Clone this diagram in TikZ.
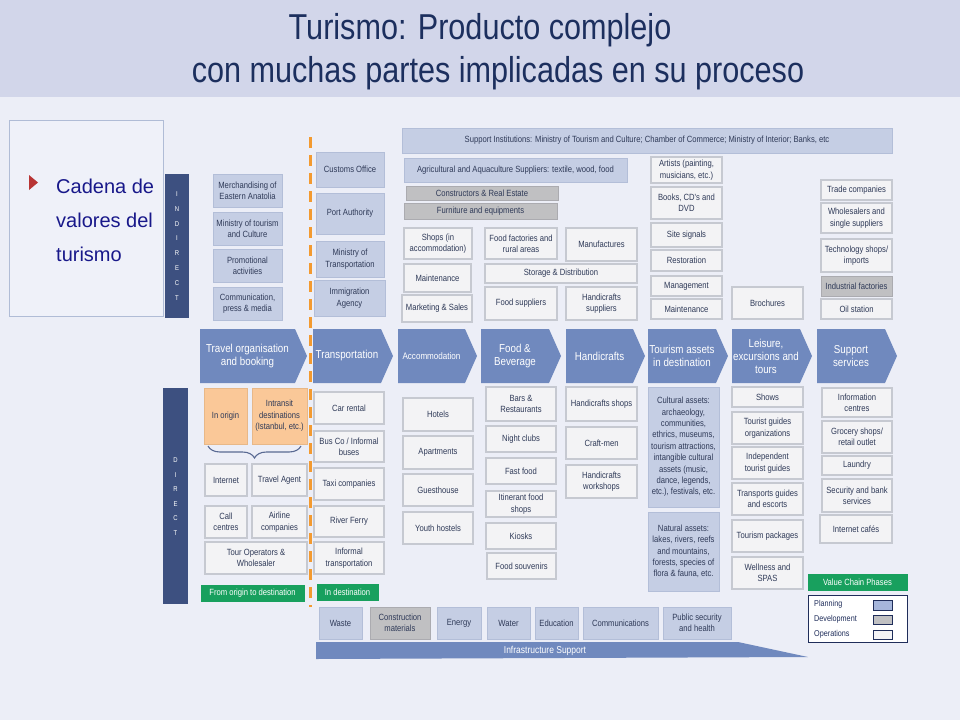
\documentclass[tikz,border=0pt]{standalone}
\usepackage{fontspec}
\setmainfont{Liberation Sans}
\newfontfamily\nar{Liberation Sans}[FakeStretch=0.85]
\usetikzlibrary{decorations.pathreplacing}
\definecolor{bgcol}{HTML}{ECEEF7}
\definecolor{bandcol}{HTML}{D2D6EA}
\definecolor{titlecol}{HTML}{1C2F5E}
\definecolor{planfill}{HTML}{C5CEE4}
\definecolor{planline}{HTML}{B3BED8}
\definecolor{devfill}{HTML}{C0C0C2}
\definecolor{devline}{HTML}{ABABB0}
\definecolor{opfill}{HTML}{F3F3F5}
\definecolor{opline}{HTML}{C6C9D1}
\definecolor{boxtxt}{HTML}{2F3A58}
\definecolor{barcol}{HTML}{3D5080}
\definecolor{chevcol}{HTML}{7089BE}
\definecolor{greencol}{HTML}{18A05E}
\definecolor{orangefill}{HTML}{FAC898}
\definecolor{orangeline}{HTML}{E8B888}
\definecolor{dashcol}{HTML}{F39A30}
\definecolor{cadcol}{HTML}{18188A}
\definecolor{bulletcol}{HTML}{B83434}
\definecolor{legline}{HTML}{1F2D5A}
\definecolor{lboxline}{HTML}{B0BCD6}
\definecolor{lboxfill}{HTML}{EFF1F9}
\definecolor{swplancol}{HTML}{A6B6DB}
\newcommand\boxfont{\nar\fontsize{9}{11.4}\selectfont}
\newcommand\chevfont{\nar\fontsize{11.5}{13}\selectfont}
\newcommand\bx[7]{\node[#6,minimum width={#4-#2},minimum height={#5-#3}] (#1) at ({(#2+#4)/2},{(#3+#5)/2}) {#7};}
\newcommand\chev[5]{\fill[chevcol] (#2,329) -- ({#3-12},329) -- (#3,356) -- ({#3-12},383) -- (#2,383) -- cycle;
 \node[chevtext,#5] (#1) at ({(#2+#3-12)/2},356) {#4};}
\begin{document}
\begin{tikzpicture}[x=1pt,y=-1pt,
  boxbase/.style={rectangle,inner sep=1pt,align=center,font=\boxfont,text=boxtxt,line width=0.9pt},
  plan/.style={boxbase,fill=planfill,draw=planline},
  devel/.style={boxbase,fill=devfill,draw=devline},
  oper/.style={boxbase,fill=opfill,draw=opline,line width=1.1pt},
  orng/.style={boxbase,fill=orangefill,draw=orangeline},
  grn/.style={boxbase,fill=greencol,draw=greencol,text=white},
  barbox/.style={rectangle,fill=barcol,draw=none,inner sep=0pt},
  bartext/.style={font=\nar\fontsize{7}{8}\selectfont,text=white,inner sep=0pt},
  chevtext/.style={align=center,font=\chevfont,text=white,inner sep=0pt},
  legbox/.style={rectangle,fill=white,draw=legline,line width=0.9pt,inner sep=0pt},
  legtext/.style={font=\nar\fontsize{8.5}{10}\selectfont,text=legline,inner sep=0pt,anchor=west},
  swatch/.style={rectangle,draw=legline,line width=0.8pt,inner sep=0pt},
  lbox/.style={rectangle,fill=lboxfill,draw=lboxline,line width=0.8pt,inner sep=0pt},
  cadtext/.style={font=\fontsize{20}{24}\selectfont,text=cadcol,inner sep=0pt,anchor=base west},
  titletext/.style={font=\nar\fontsize{36}{40}\selectfont,text=titlecol,inner sep=0pt,anchor=base}]
\useasboundingbox (0,0) rectangle (960,720);
\fill[bgcol] (0,0) rectangle (960,720);
\fill[bandcol] (0,0) rectangle (960,97);
\node[titletext] (title1) at (480,39) {Turismo: Producto complejo};
\node[titletext] (title2) at (498,82) {con muchas partes implicadas en su proceso};

% left box
\bx{leftbox}{9}{120}{163}{316}{lbox}{}
\fill[bulletcol] (29,175) -- (38,182.5) -- (29,190) -- cycle;
\node[cadtext] (cad1) at (56,193) {Cadena de};
\node[cadtext] (cad2) at (56,227) {valores del};
\node[cadtext] (cad3) at (56,261) {turismo};

% bars
\bx{indirectbar}{165}{174}{189}{318}{barbox}{}
\foreach \l [count=\i] in {I,N,D,I,R,E,C,T}
  \node[bartext] (ind\i) at (177,{194+(\i-1)*14.86}) {\l};
\bx{directbar}{163}{388}{188}{604}{barbox}{}
\foreach \l [count=\i] in {D,I,R,E,C,T}
  \node[bartext] (dir\i) at (175.5,{460+(\i-1)*14.6}) {\l};

% dashed separator
\coordinate (dtop) at (310,137);
\coordinate (dbot) at (310,607);
\draw[dashcol,line width=3pt,dash pattern=on 11pt off 7pt] (dtop) -- (dbot);

% indirect
\bx{merch}{213}{174}{282}{207}{plan}{Merchandising of\\Eastern Anatolia}
\bx{mintour}{213}{212}{282}{245}{plan}{Ministry of tourism\\and Culture}
\bx{promo}{213}{249}{282}{282}{plan}{Promotional\\activities}
\bx{comm}{213}{287}{282}{320}{plan}{Communication,\\press \& media}
\bx{customs}{316}{152}{384}{187}{plan}{Customs Office}
\bx{port}{316}{193}{384}{234}{plan}{Port Authority}
\bx{mintrans}{316}{241}{384}{277}{plan}{Ministry of\\Transportation}
\bx{immig}{314}{280}{385}{316}{plan}{Immigration\\Agency}

\bx{support}{402}{128}{892}{153}{plan}{Support Institutions: Ministry of Tourism and Culture; Chamber of Commerce; Ministry of Interior; Banks, etc}
\bx{agri}{404}{158}{627}{182}{plan}{Agricultural and Aquaculture Suppliers: textile, wood, food}
\bx{constr}{406}{186}{558}{200}{devel}{Constructors \& Real Estate}
\bx{furn}{404}{203}{557}{219}{devel}{Furniture and equipments}
\bx{shops}{404}{228}{472}{259}{oper}{Shops (in\\accommodation)}
\bx{foodfact}{485}{228}{557}{259}{oper}{Food factories and\\rural areas}
\bx{manuf}{566}{228}{637}{261}{oper}{Manufactures}
\bx{maint1}{404}{264}{471}{292}{oper}{Maintenance}
\bx{storage}{485}{264}{637}{283}{oper}{Storage \& Distribution}
\bx{mkt}{402}{295}{472}{322}{oper}{Marketing \& Sales}
\bx{foodsup}{485}{287}{557}{320}{oper}{Food suppliers}
\bx{handsup}{566}{287}{637}{320}{oper}{Handicrafts\\suppliers}

\bx{artists}{651}{157}{722}{183}{oper}{Artists (painting,\\musicians, etc.)}
\bx{books}{651}{187}{722}{219}{oper}{Books, CD's and\\DVD}
\bx{signals}{651}{223}{722}{247}{oper}{Site signals}
\bx{resto}{651}{250}{722}{271}{oper}{Restoration}
\bx{mgmt}{651}{276}{722}{296}{oper}{Management}
\bx{maint2}{651}{299}{722}{319}{oper}{Maintenance}
\bx{broch}{732}{287}{803}{319}{oper}{Brochures}
\bx{trade}{821}{180}{892}{200}{oper}{Trade companies}
\bx{whole}{821}{203}{892}{233}{oper}{Wholesalers and\\single suppliers}
\bx{tech}{821}{239}{892}{272}{oper}{Technology shops/\\imports}
\bx{indfac}{821}{276}{892}{296}{devel}{Industrial factories}
\bx{oil}{821}{299}{892}{319}{oper}{Oil station}

% chevrons
\chev{ch1}{200}{307}{Travel organisation\\and booking}{}
\chev{ch2}{313}{393}{Transportation}{}
\chev{ch3}{398}{477}{Accommodation}{font=\nar\fontsize{9.5}{11}\selectfont}
\chev{ch4}{481}{561}{Food \&\\Beverage}{}
\chev{ch5}{566}{645}{Handicrafts}{}
\chev{ch6}{648}{728}{Tourism assets\\in destination}{}
\chev{ch7}{732}{812}{Leisure,\\excursions and\\tours}{}
\chev{ch8}{817}{897}{Support\\services}{}

% direct
\bx{inorigin}{204}{388}{247}{444}{orng}{In origin}
\bx{intransit}{252}{388}{307}{444}{orng}{Intransit\\destinations\\(Istanbul, etc.)}
\coordinate (brl) at (208,446);
\coordinate (brr) at (301,446);
\draw[barcol!85!white,line width=1.1pt,decorate,decoration={brace,mirror,amplitude=12pt}] (brl) -- (brr);
\bx{internet}{205}{464}{247}{496}{oper}{Internet}
\bx{travelag}{252}{464}{307}{496}{oper}{Travel Agent}
\bx{callc}{205}{506}{247}{538}{oper}{Call\\centres}
\bx{airline}{252}{506}{307}{538}{oper}{Airline\\companies}
\bx{tourop}{205}{542}{307}{574}{oper}{Tour Operators \&\\Wholesaler}
\bx{fromorig}{201}{585}{304}{601}{grn}{From origin to destination}
\bx{indest}{317}{584}{378}{600}{grn}{In destination}
\bx{car}{314}{392}{384}{424}{oper}{Car rental}
\bx{bus}{314}{431}{384}{462}{oper}{Bus Co / Informal\\buses}
\bx{taxi}{314}{468}{384}{500}{oper}{Taxi companies}
\bx{ferry}{314}{506}{384}{537}{oper}{River Ferry}
\bx{informal}{314}{542}{384}{574}{oper}{Informal\\transportation}

\bx{hotels}{403}{398}{473}{431}{oper}{Hotels}
\bx{apart}{403}{436}{473}{469}{oper}{Apartments}
\bx{guest}{403}{474}{473}{506}{oper}{Guesthouse}
\bx{youth}{403}{512}{473}{544}{oper}{Youth hostels}
\bx{bars}{486}{387}{556}{421}{oper}{Bars \&\\Restaurants}
\bx{night}{486}{426}{556}{452}{oper}{Night clubs}
\bx{fast}{486}{458}{556}{484}{oper}{Fast food}
\bx{itin}{486}{491}{556}{517}{oper}{Itinerant food\\shops}
\bx{kiosks}{486}{523}{556}{549}{oper}{Kiosks}
\bx{foodsouv}{487}{553}{556}{579}{oper}{Food souvenirs}
\bx{handshops}{566}{387}{637}{421}{oper}{Handicrafts shops}
\bx{craft}{566}{427}{637}{459}{oper}{Craft-men}
\bx{handwork}{566}{465}{637}{498}{oper}{Handicrafts\\workshops}

\bx{cultural}{648}{387}{719}{507}{plan}{Cultural assets:\\archaeology,\\communities,\\ethrics, museums,\\tourism attractions,\\intangible cultural\\assets (music,\\dance, legends,\\etc.), festivals, etc.}
\bx{natural}{648}{512}{719}{591}{plan}{Natural assets:\\lakes, rivers, reefs\\and mountains,\\forests, species of\\flora \& fauna, etc.}
\bx{shows}{732}{387}{803}{407}{oper}{Shows}
\bx{guideorg}{732}{412}{803}{444}{oper}{Tourist guides\\organizations}
\bx{indguide}{732}{447}{803}{479}{oper}{Independent\\tourist guides}
\bx{transguide}{732}{483}{803}{515}{oper}{Transports guides\\and escorts}
\bx{packages}{732}{520}{803}{552}{oper}{Tourism packages}
\bx{wellness}{732}{557}{803}{589}{oper}{Wellness and\\SPAS}
\bx{info}{822}{388}{892}{417}{oper}{Information\\centres}
\bx{grocery}{822}{421}{892}{453}{oper}{Grocery shops/\\retail outlet}
\bx{laundry}{822}{456}{892}{475}{oper}{Laundry}
\bx{security}{822}{479}{892}{512}{oper}{Security and bank\\services}
\bx{icafe}{820}{515}{892}{543}{oper}{Internet cafés}

% legend
\bx{vcp}{808}{574}{907}{590}{grn}{Value Chain Phases}
\bx{legend}{808}{595}{907}{642}{legbox}{}
\node[legtext] (lplan) at (814,604) {Planning};
\node[legtext] (ldev) at (814,619) {Development};
\node[legtext] (lops) at (814,634) {Operations};
\bx{swplan}{873}{600}{892}{610}{swatch,fill=swplancol}{}
\bx{swdev}{873}{615}{892}{624}{swatch,fill=devfill}{}
\bx{swops}{873}{630}{892}{639}{swatch,fill=opfill}{}

% infrastructure
\bx{waste}{319}{607}{362}{639}{plan}{Waste}
\bx{constm}{370}{607}{430}{639}{devel}{Construction\\materials}
\bx{energy}{437}{607}{481}{639}{plan}{Energy}
\bx{water}{487}{607}{530}{639}{plan}{Water}
\bx{educ}{535}{607}{578}{639}{plan}{Education}
\bx{comms}{583}{607}{658}{639}{plan}{Communications}
\bx{pubsec}{663}{607}{731}{639}{plan}{Public security\\and health}
\fill[chevcol] (316,642) -- (738,642) -- (808,657) -- (316,659) -- cycle;
\node[chevtext,font=\nar\fontsize{10}{12}\selectfont] (infra) at (545,651) {Infrastructure Support};
\end{tikzpicture}
\end{document}
